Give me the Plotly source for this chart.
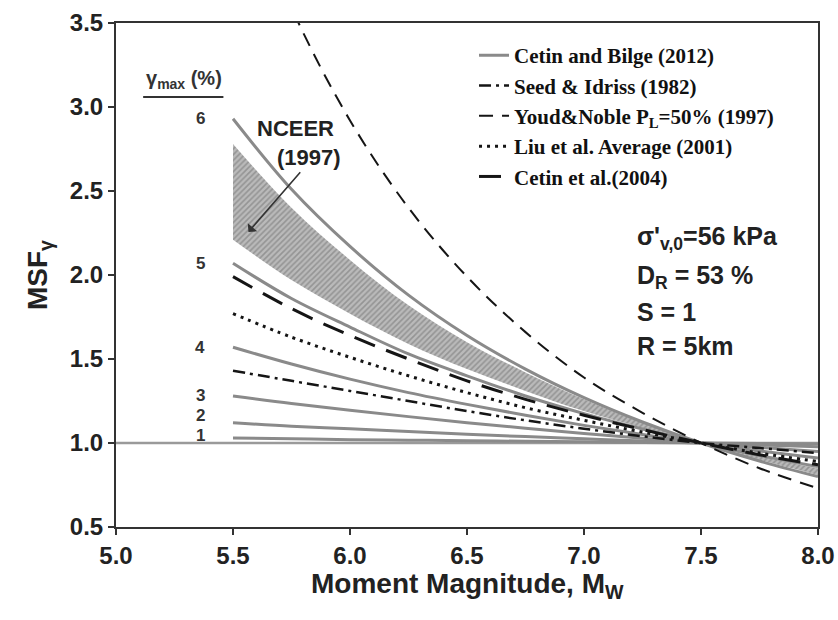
import plotly.graph_objects as go

# Moment magnitudes at which each relation is tabulated
mw = [5.5, 5.75, 6.0, 6.25, 6.5, 6.75, 7.0, 7.25, 7.5, 7.75, 8.0]

# Cetin and Bilge (2012): MSF for gamma_max = 1..6 %
cb_g1 = [1.03, 1.025, 1.02, 1.017, 1.014, 1.01, 1.007, 1.003, 1.0, 0.997, 0.994]
cb_g2 = [1.12, 1.10, 1.085, 1.068, 1.052, 1.038, 1.025, 1.012, 1.0, 0.988, 0.977]
cb_g3 = [1.28, 1.235, 1.195, 1.157, 1.121, 1.088, 1.057, 1.028, 1.0, 0.974, 0.95]
cb_g4 = [1.57, 1.47, 1.38, 1.30, 1.23, 1.165, 1.105, 1.05, 1.0, 0.953, 0.91]
cb_g5 = [2.07, 1.86, 1.69, 1.53, 1.40, 1.28, 1.175, 1.083, 1.0, 0.926, 0.86]
cb_g6 = [2.93, 2.51, 2.17, 1.88, 1.64, 1.44, 1.27, 1.125, 1.0, 0.893, 0.80]
gamma_labels = ["1", "2", "3", "4", "5", "6"]

# NCEER (1997) recommended range
nceer_lower = [2.21, 1.97, 1.77, 1.59, 1.44, 1.31, 1.19, 1.09, 1.0, 0.92, 0.85]
nceer_upper = [2.78, 2.40, 2.09, 1.82, 1.60, 1.42, 1.26, 1.12, 1.0, 0.90, 0.81]

# Other published relations
seed_idriss = [1.43, 1.37, 1.31, 1.25, 1.19, 1.135, 1.085, 1.04, 1.0, 0.97, 0.94]
youd_noble = [4.45, 3.59, 2.92, 2.40, 1.99, 1.66, 1.39, 1.18, 1.0, 0.85, 0.73]
liu_avg = [1.77, 1.63, 1.51, 1.40, 1.30, 1.21, 1.135, 1.065, 1.0, 0.94, 0.89]
cetin_2004 = [1.99, 1.80, 1.64, 1.50, 1.37, 1.26, 1.165, 1.08, 1.0, 0.93, 0.87]

x_ticks = [5.0, 5.5, 6.0, 6.5, 7.0, 7.5, 8.0]
y_ticks = [0.5, 1.0, 1.5, 2.0, 2.5, 3.0, 3.5]

SANS = "Liberation Sans"
SERIF = "Liberation Serif"
GRAY = "#8a8a8a"
INK = "#151515"

fig = go.Figure()

# NCEER shaded band
fig.add_trace(go.Scatter(x=mw, y=nceer_lower, mode="lines", line=dict(width=0, shape="spline"),
                         showlegend=False, hoverinfo="skip"))
fig.add_trace(go.Scatter(x=mw, y=nceer_upper, mode="lines", line=dict(width=0, shape="spline"),
                         fill="tonexty", fillcolor="#b0b0b0",
                         fillpattern=dict(shape="/", fgcolor="#6e6e6e", bgcolor="#bababa",
                                          size=4, solidity=0.4),
                         showlegend=False, name="NCEER (1997)"))

# Cetin and Bilge family
cb_curves = [cb_g1, cb_g2, cb_g3, cb_g4, cb_g5, cb_g6]
for i, ys in enumerate(cb_curves):
    fig.add_trace(go.Scatter(
        x=mw, y=ys, mode="lines", line=dict(color=GRAY, width=3, shape="spline"),
        name="Cetin and Bilge (2012)", legendgroup="cb", legendrank=1,
        showlegend=(i == 0)))

fig.add_trace(go.Scatter(x=mw, y=seed_idriss, mode="lines",
                         line=dict(color=INK, width=2.5, dash="12px,5px,3px,5px", shape="spline"),
                         name="Seed & Idriss (1982)", legendgroup="si", legendrank=2))
fig.add_trace(go.Scatter(x=mw, y=youd_noble, mode="lines",
                         line=dict(color=INK, width=2, dash="14px,9px", shape="spline"),
                         name="Youd&Noble P<sub>L</sub>=50% (1997)", legendgroup="yn", legendrank=3))
fig.add_trace(go.Scatter(x=mw, y=liu_avg, mode="lines",
                         line=dict(color=INK, width=3, dash="3px,5px", shape="spline"),
                         name="Liu et al. Average (2001)", legendgroup="liu", legendrank=4))
fig.add_trace(go.Scatter(x=mw, y=cetin_2004, mode="lines",
                         line=dict(color=INK, width=3, dash="22px,12px", shape="spline"),
                         name="Cetin et al.(2004)", legendgroup="c04", legendrank=5))

# Reference line at MSF = 1
fig.add_shape(type="line", xref="paper", yref="y", x0=0, x1=1, y0=1.0, y1=1.0,
              line=dict(color="#9a9a9a", width=2.5), layer="below")

# gamma_max labels at the start of each curve
for lab, ys in zip(gamma_labels, cb_curves):
    shift = {"1": 2, "2": 7}.get(lab, 0)
    fig.add_annotation(x=mw[0], y=ys[0], text=lab, showarrow=False, xanchor="right",
                       xshift=-26, yshift=shift,
                       font=dict(family=SANS, size=17, weight="bold", color="#333"))

fig.add_annotation(x=5.291, y=3.165, text="γ<sub>max</sub> (%)", showarrow=False,
                   font=dict(family=SANS, size=20, weight="bold", color="#333"))
fig.add_shape(type="line", x0=5.116, x1=5.459, y0=3.06, y1=3.06,
              line=dict(color="#333", width=2))

# NCEER label and arrow
fig.add_annotation(x=5.767, y=2.875, text="NCEER", showarrow=False,
                   font=dict(family=SANS, size=22, weight="bold", color="#222"))
fig.add_annotation(x=5.823, y=2.70, text="(1997)", showarrow=False,
                   font=dict(family=SANS, size=22, weight="bold", color="#222"))
fig.add_annotation(x=5.566, y=2.256, ax=5.793, ay=2.62, axref="x", ayref="y",
                   text="", showarrow=True, arrowhead=1, arrowsize=1.3, arrowwidth=1.6,
                   arrowcolor="#333")

# Site conditions
cond_font = dict(family=SANS, size=25, weight="bold", color="#222")
for txt, yv in [("σ'<sub>v,0</sub>=56 kPa", 2.22), ("D<sub>R</sub> = 53 %", 1.99),
                ("S = 1", 1.78), ("R = 5km", 1.58)]:
    fig.add_annotation(x=7.22, y=yv, text=txt, showarrow=False, xanchor="left",
                       font=cond_font)

# x-axis title placed just under the tick labels
fig.add_annotation(xref="paper", yref="paper", x=0.5, y=-0.077, yanchor="top",
                   text="Moment Magnitude, M<sub>W</sub>", showarrow=False,
                   font=dict(family=SANS, size=28, weight="bold", color="#222"))

tickfont = dict(family=SANS, size=24, weight="bold", color="#222")
fig.update_layout(
    width=838, height=620,
    margin=dict(l=116, r=20, t=23, b=93, autoexpand=False),
    paper_bgcolor="white", plot_bgcolor="white",
    legend=dict(x=0.510, y=0.976, xanchor="left", yanchor="top",
                bgcolor="rgba(0,0,0,0)", tracegroupgap=0,
                font=dict(family=SERIF, size=21, weight="bold", color="#111")),
    xaxis=dict(range=[5.0, 8.0], tickvals=x_ticks, ticktext=[f"{v:.1f}" for v in x_ticks],
               ticks="outside", ticklen=6, tickwidth=2, tickcolor="#333",
               showline=True, linecolor="#333", linewidth=2, mirror=True,
               showgrid=False, zeroline=False, tickfont=tickfont, automargin=False),
    yaxis=dict(range=[0.5, 3.5], tickvals=y_ticks, ticktext=[f"{v:.1f}" for v in y_ticks],
               ticks="outside", ticklen=6, tickwidth=2, tickcolor="#333",
               showline=True, linecolor="#333", linewidth=2, mirror=True,
               showgrid=False, zeroline=False, tickfont=tickfont, automargin=False,
               title=dict(text="MSF<sub>γ</sub>", standoff=14,
                          font=dict(family=SANS, size=28, weight="bold", color="#222"))),
    xaxis2=dict(overlaying="x", side="top", range=[5.0, 8.0], tickvals=x_ticks,
                ticks="inside", ticklen=6, tickwidth=1.5, tickcolor="#333",
                showticklabels=False, showgrid=False, zeroline=False, anchor="y"),
    yaxis2=dict(overlaying="y", side="right", range=[0.5, 3.5], tickvals=y_ticks,
                ticks="inside", ticklen=6, tickwidth=1.5, tickcolor="#333",
                showticklabels=False, showgrid=False, zeroline=False, anchor="x"),
)

fig.write_html("out.html")
